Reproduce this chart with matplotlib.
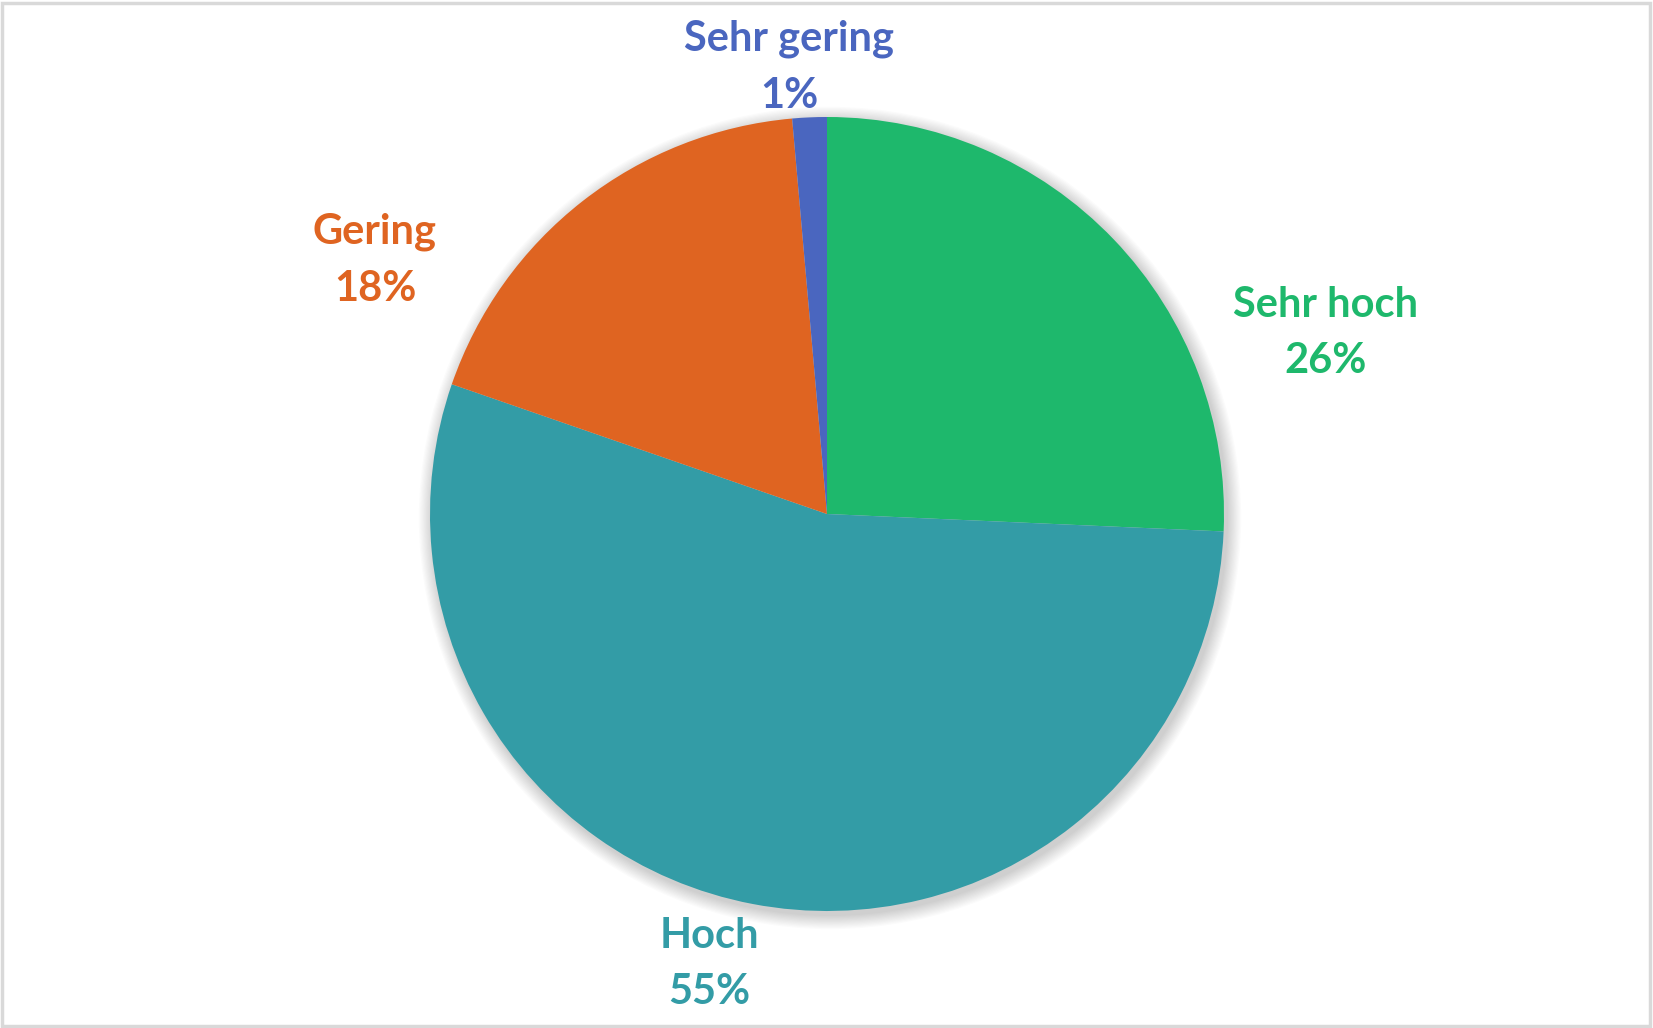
import matplotlib.pyplot as plt
from matplotlib.patches import Circle, Rectangle

# data
categories = ["Sehr hoch", "Hoch", "Gering", "Sehr gering"]
shares = [25.7, 54.6, 18.3, 1.4]
colors = ["#1EB86C", "#339CA6", "#DF6421", "#4A66BF"]

# label block centres (pixels, y up)
label_pos = [(1326, 695), (709, 64), (375, 768), (789, 961)]

W, H = 1653, 1028
cx, cy, r = 827, 514, 397

fig = plt.figure(figsize=(W / 100, H / 100), dpi=100)
ax = fig.add_axes([0, 0, 1, 1])
ax.set_xlim(0, W)
ax.set_ylim(0, H)
ax.set_aspect("equal")
ax.axis("off")

# soft shadow under the pie
for k in range(12):
    ax.add_patch(Circle((cx + 3, cy - 4), r + 1 + k * 1.2, color="black",
                        alpha=0.015, lw=0, zorder=0))

ax.pie(shares, colors=colors, startangle=90, counterclock=False,
       center=(cx, cy), radius=r, frame=True,
       wedgeprops=dict(linewidth=0))
ax.axis("off")

for name, val, col, (x, y) in zip(categories, shares, colors, label_pos):
    ax.text(x, y, f"{name}\n{round(val):d}%", color=col, ha="center", va="center",
            fontsize=30, fontweight="bold", family="Lato", linespacing=1.6)

# chart border
fig.add_artist(Rectangle((0.001, 0.002), 0.997, 0.995, transform=fig.transFigure,
                         fill=False, edgecolor="#D9D9D9", lw=2.5))

fig.savefig("out.png", dpi=100)
